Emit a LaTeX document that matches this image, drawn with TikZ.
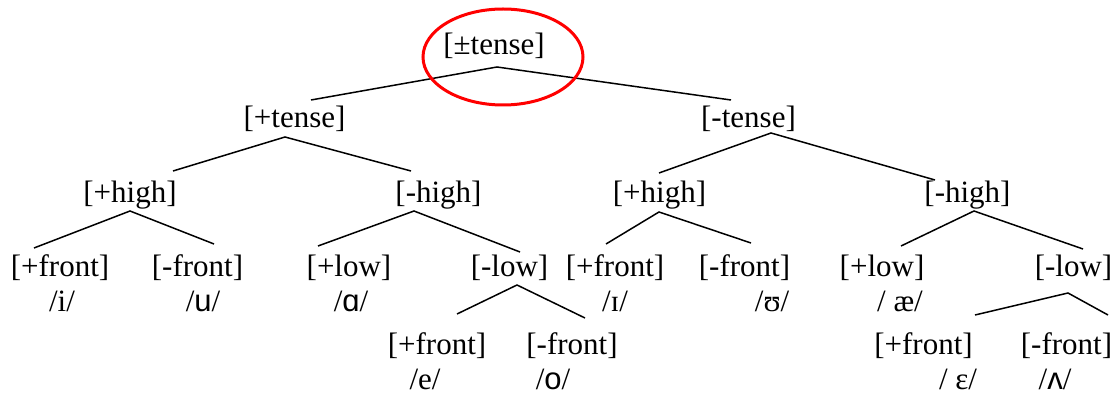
\documentclass[tikz,border=0pt]{standalone}
\usepackage{fontspec}
\setmainfont{Liberation Serif}
\newfontfamily\ipasans{Liberation Sans}
\begin{document}
\begin{tikzpicture}[x=0.5pt,y=-0.5pt,
  feat/.style={inner sep=0pt,anchor=base,font=\fontsize{15.5}{18}\selectfont},
  phon/.style={inner sep=0pt,anchor=base,font=\fontsize{15.5}{18}\selectfont},
  branch/.style={draw=black,line width=0.75pt},
  mark ring/.style={draw=red,line width=1.5pt}]
\useasboundingbox (0,0) rectangle (1120,395);
% feature nodes
\node[feat] (root) at (494,54.5) {[±tense]};
\node[feat] (pt) at (294.5,127.5) {[+tense]};
\node[feat] (mt) at (748.5,127.5) {[-tense]};
\node[feat] (ph1) at (130,202.5) {[+high]};
\node[feat] (mh1) at (438.5,202.5) {[-high]};
\node[feat] (ph2) at (659.5,202.5) {[+high]};
\node[feat] (mh2) at (967.5,202.5) {[-high]};
\node[feat] (pf1) at (60,276.5) {[+front]};
\node[feat] (mf1) at (197.5,276.5) {[-front]};
\node[feat] (pl1) at (349,276.5) {[+low]};
\node[feat] (ml1) at (509.5,276.5) {[-low]};
\node[feat] (pf2) at (615,276.5) {[+front]};
\node[feat] (mf2) at (744.5,276.5) {[-front]};
\node[feat] (pl2) at (882,276.5) {[+low]};
\node[feat] (ml2) at (1073.5,276.5) {[-low]};
\node[feat] (pf3) at (437,354.5) {[+front]};
\node[feat] (mf3) at (572,354.5) {[-front]};
\node[feat] (pf4) at (923.5,354.5) {[+front]};
\node[feat] (mf4) at (1066.5,354.5) {[-front]};
% phonemes
\node[phon] (vi) at (62,311.5) {/i/};
\node[phon] (vu) at (203,311.5) {/{\ipasans u}/};
\node[phon] (va) at (351,311.5) {/{\ipasans ɑ}/};
\node[phon] (vI) at (615,311.5) {/ɪ/};
\node[phon] (vU) at (772,311.5) {/ʊ/};
\node[phon] (vae) at (900,311.5) {/ æ/};
\node[phon] (ve) at (425,389.5) {/e/};
\node[phon] (vo) at (553,389.5) {/{\ipasans o}/};
\node[phon] (veps) at (958,389.5) {/ ε/};
\node[phon] (vV) at (1055,389.5) {/{\ipasans ʌ}/};
% branch coordinates
\coordinate (root-a) at (497,67);  \coordinate (root-l) at (311,100); \coordinate (root-r) at (731,100);
\coordinate (pt-a) at (285,137);   \coordinate (pt-l) at (173,171);   \coordinate (pt-r) at (411,171);
\coordinate (mt-a) at (771,133);   \coordinate (mt-l) at (659,173);   \coordinate (mt-r) at (935,180);
\coordinate (ph1-a) at (130,211);  \coordinate (ph1-l) at (34,248);   \coordinate (ph1-r) at (214,244);
\coordinate (mh1-a) at (414,211);  \coordinate (mh1-l) at (318,246);  \coordinate (mh1-r) at (520,252);
\coordinate (ph2-a) at (659,212);  \coordinate (ph2-l) at (606,244);  \coordinate (ph2-r) at (751,243);
\coordinate (mh2-a) at (974,211);  \coordinate (mh2-l) at (901,246);  \coordinate (mh2-r) at (1083,249);
\coordinate (ml1-a) at (517,285);  \coordinate (ml1-l) at (457,314);  \coordinate (ml1-r) at (585,318);
\coordinate (ml2-a) at (1068,293); \coordinate (ml2-l) at (975,315);  \coordinate (ml2-r) at (1108,315);
\foreach \n in {root,pt,mt,ph1,mh1,ph2,mh2,ml1,ml2}{
  \draw[branch] (\n-l) -- (\n-a) -- (\n-r);
}
% red ring
\coordinate (ring-c) at (503,57);
\draw[mark ring] (ring-c) ellipse [x radius=80, y radius=48];
\end{tikzpicture}
\end{document}
